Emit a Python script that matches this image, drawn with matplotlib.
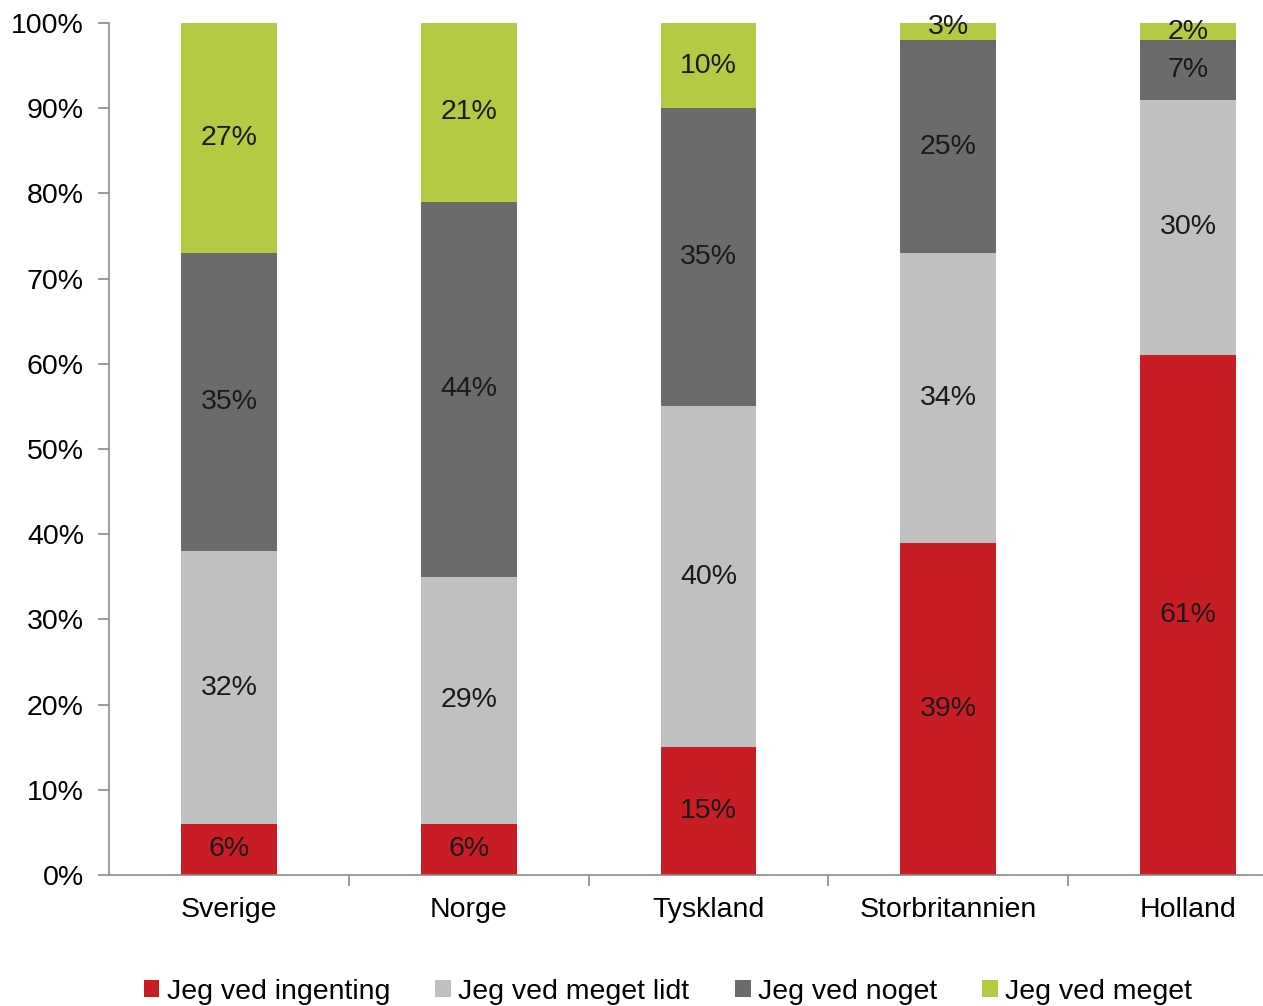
import matplotlib.pyplot as plt
from matplotlib.ticker import FixedLocator

plt.rcParams['font.family'] = ['Liberation Sans', 'DejaVu Sans']

countries = ["Sverige", "Norge", "Tyskland", "Storbritannien", "Holland"]
series_names = ["Jeg ved ingenting", "Jeg ved meget lidt", "Jeg ved noget", "Jeg ved meget"]
ingenting = [6, 6, 15, 39, 61]
meget_lidt = [32, 29, 40, 34, 30]
noget = [35, 44, 35, 25, 7]
meget = [27, 21, 10, 3, 2]
colors = ["#C91D25", "#C0C0C0", "#6B6B6B", "#B5CA42"]


def main():
    fig = plt.figure(figsize=(12.63, 10.06), dpi=100)
    ax = fig.add_axes([109 / 1263, 131 / 1006, 1199 / 1263, 852 / 1006])

    x = list(range(len(countries)))
    bottom = [0] * len(countries)
    for name, vals, col in zip(series_names, [ingenting, meget_lidt, noget, meget], colors):
        ax.bar(x, vals, width=0.4, bottom=bottom, color=col, label=name)
        for xi, b, v in zip(x, bottom, vals):
            ax.text(xi, b + v / 2, f"{v}%", ha="center", va="center",
                    fontsize=20.5, color="#1a1a1a")
        bottom = [b + v for b, v in zip(bottom, vals)]

    ax.set_xlim(-0.5, 4.5)
    ax.set_ylim(0, 100)
    ax.set_yticks(range(0, 101, 10))
    ax.set_yticklabels([f"{t}%" for t in range(0, 101, 10)])
    ax.set_xticks(x)
    ax.set_xticklabels(countries)
    ax.xaxis.set_minor_locator(FixedLocator([0.5, 1.5, 2.5, 3.5]))

    for side in ["top", "right"]:
        ax.spines[side].set_visible(False)
    for side in ["left", "bottom"]:
        ax.spines[side].set_color("#8c8c8c")
        ax.spines[side].set_linewidth(1.2)

    ax.tick_params(axis="y", length=8, width=1.2, color="#8c8c8c", labelsize=20.5, pad=10)
    ax.tick_params(axis="x", which="major", length=0, labelsize=20.5, pad=16)
    ax.tick_params(axis="x", which="minor", length=8, width=1.2, color="#8c8c8c")

    ax.legend(loc="center", bbox_to_anchor=(559 / 1199, -0.137),
              ncol=4, frameon=False, fontsize=20.5, handlelength=0.55, handleheight=0.55,
              handletextpad=0.25, columnspacing=1.6)

    fig.savefig("out.png", dpi=100)


if __name__ == "__main__":
    main()
